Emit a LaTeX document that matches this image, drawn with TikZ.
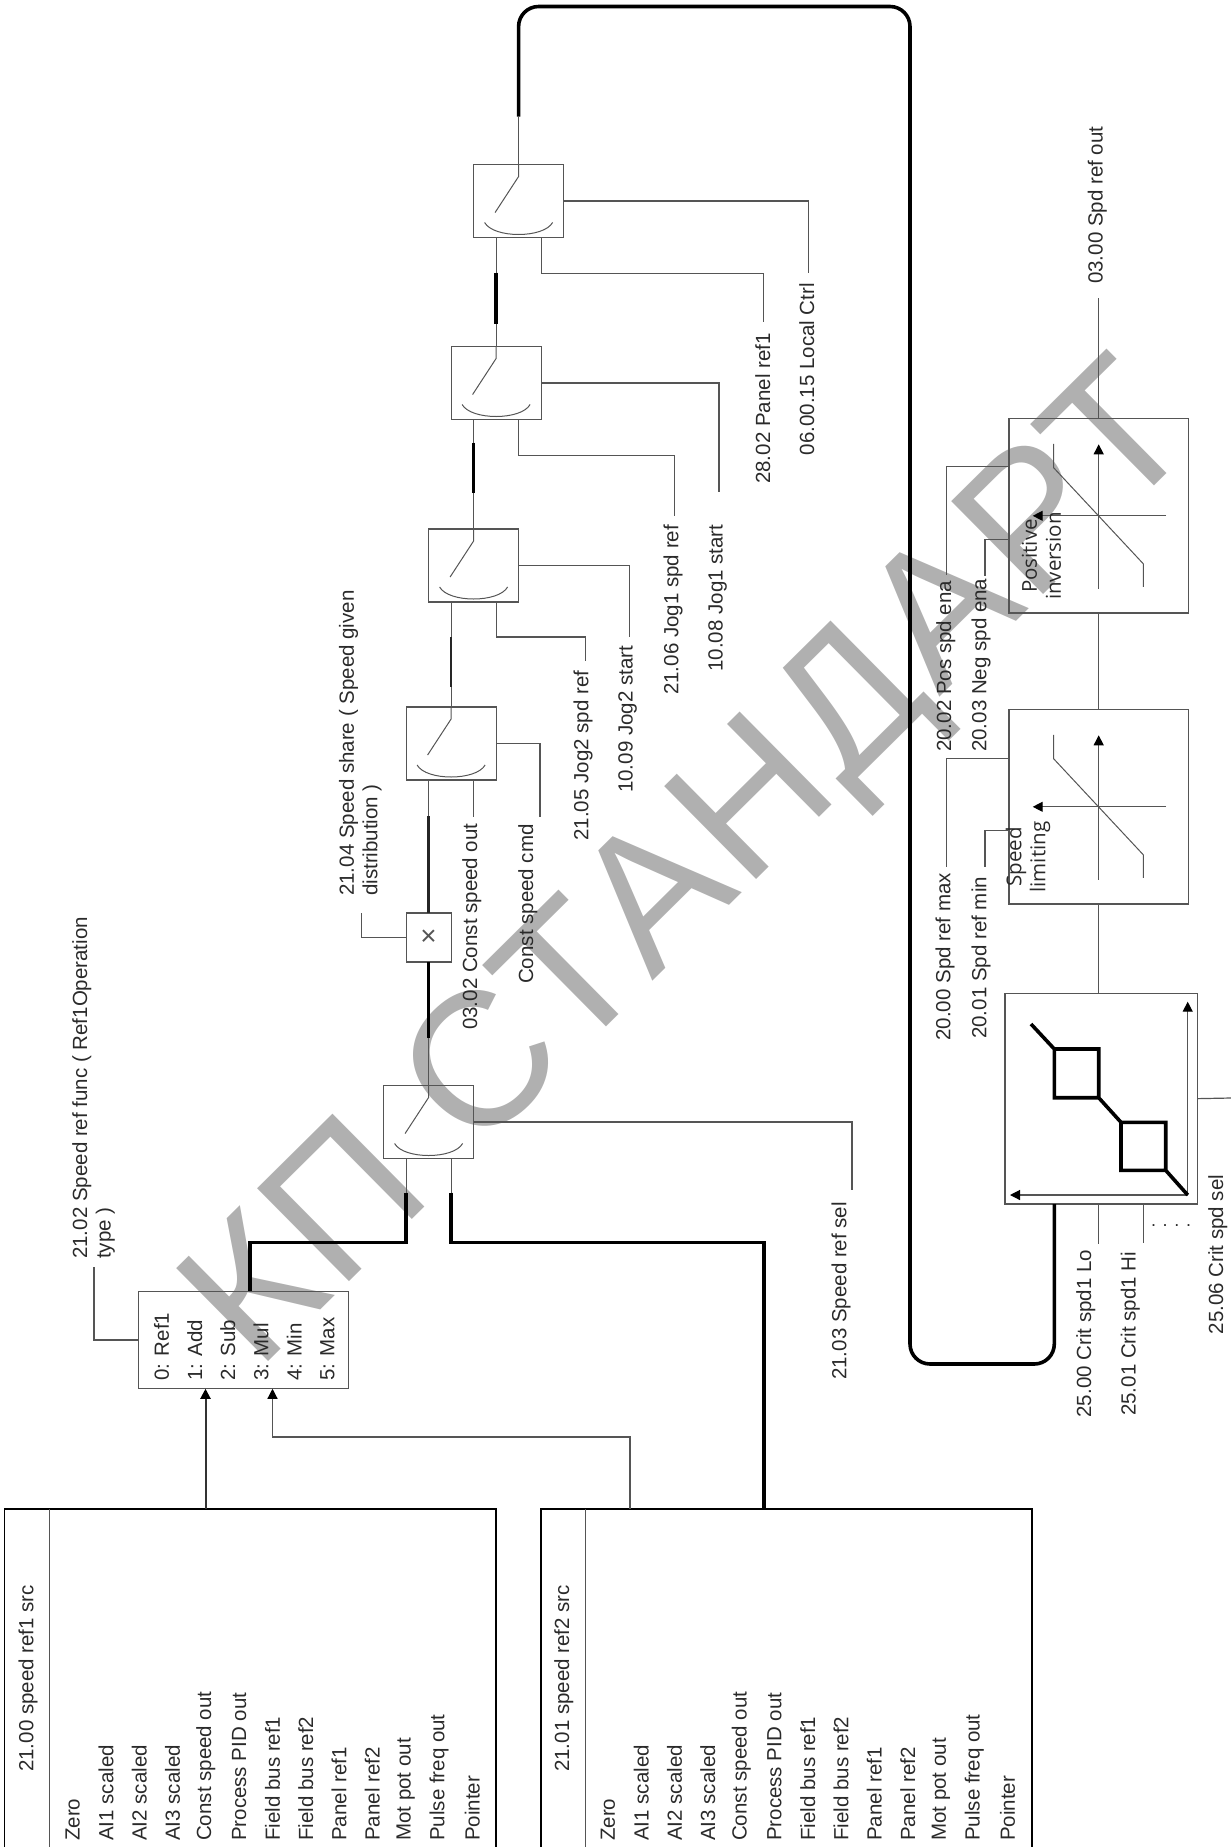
\documentclass[tikz,border=0pt]{standalone}
\usepackage{fontspec}
\setmainfont{Liberation Sans}
\newfontfamily\inboxfont{Open Sans}
\newfontfamily\markfont[LetterSpace=2]{Liberation Sans}
\usepackage{xcolor}
\usetikzlibrary{arrows.meta}
\definecolor{ink}{HTML}{2A2A2A}
\definecolor{wire}{HTML}{555555}
\definecolor{mark}{HTML}{B0B0B0}
\tikzset{
  lbl/.style={rotate=90, anchor=west, inner sep=0pt, align=left, text=ink,
              font=\fontsize{20.5}{23.5}\selectfont},
  inlbl/.style={rotate=90, inner sep=0pt, align=center, text=ink,
              font=\inboxfont\fontsize{20.5}{24}\selectfont},
  plainbox/.style={rectangle, draw=wire, line width=1.2pt, inner sep=0pt, outer sep=0pt},
  srcbox/.style={plainbox, draw=black, line width=1.5pt, minimum width=491.4pt, minimum height=340pt},
  swbox/.style={plainbox, minimum width=90pt, minimum height=73pt},
  chartbox/.style={plainbox, minimum width=179.3pt, minimum height=194.4pt},
  flow/.style={draw=wire, line width=1.2pt},
  arrowflow/.style={flow, -{Triangle[length=10pt,width=10pt,color=black]}},
  midflow/.style={draw=black!85, line width=2.6pt},
  heavy/.style={draw=black, line width=3.6pt},
}

\begin{document}
\begin{tikzpicture}[x=1pt,y=-1pt]
\useasboundingbox (0,0) rectangle (1231,1847);

\node[rotate=44.7, anchor=base west, inner sep=0pt, text=mark,
      font=\markfont\fontsize{190}{190}\selectfont] (stamp) at (257,1373) {КП СТАНДАРТ};

\node[srcbox] (refa) at (250.3,1679) {};
\node[srcbox] (refb) at (786.5,1679) {};
\draw[flow] (refa.north west) ++(44.8,0) -- ++(0,340);
\draw[flow] (refb.north west) ++(44.5,0) -- ++(0,340);
\node[lbl] (refatitle) at (28,1772) {21.00 speed ref1 src};
\node[lbl] (refbtitle) at (563.7,1772) {21.01 speed ref2 src};
\foreach \t [count=\n from 0] in {Zero,AI1 scaled,AI2 scaled,AI3 scaled,Const speed out,Process PID out,Field bus ref1,Field bus ref2,Panel ref1,Panel ref2,Mot pot out,Pulse freq out,Pointer} {
  \node[lbl] (refa\n) at (72.7+33.3*\n,1841) {\t};
  \node[lbl] (refb\n) at (608+33.3*\n,1841) {\t};
}

\node[plainbox, minimum width=210pt, minimum height=97.5pt] (fn) at (243.5,1340) {};
\foreach \t [count=\n from 0] in {0: Ref1,1: Add,2: Sub,3: Mul,4: Min,5: Max}
  \node[lbl] (fn\n) at (161.5+33.2*\n,1381) {\t};
\node[lbl] (fnlbl) at (93.5,1259) {21.02 Speed ref func ( Ref1Operation\\type )};
\coordinate (fnend) at (94,1267);
\draw[flow] (fn.west) -| (fnend);

\foreach \nm/\cx/\cy in {swA/428.6/1122,swB/451.1/743.5,swC/473.6/565.5,swD/496.1/383,swE/518.6/201} {
  \node[swbox] (\nm) at (\cx,\cy) {};
  \draw[flow, line width=1pt] (\nm.north) -- ++(0,12) -- ++(-23.5,36);
  \draw[flow, line width=1pt] (\nm.north) ++(-34,58) .. controls +(9,16) and +(-9,16) .. ++(68,0);
}
\node[plainbox, minimum width=45pt, minimum height=49pt, font=\fontsize{28}{28}\selectfont, text=wire] (mul) at (428.6,937.5) {×};

\draw[arrowflow, draw=black!80, line width=2pt] ([xshift=-44.8pt]refa.north) -- ([xshift=-38pt]fn.south);
\draw[arrowflow] ([xshift=-156.5pt]refb.north) -- ++(0,-72) -| ([xshift=29pt]fn.south);
\draw[heavy] ([xshift=-22.5pt,yshift=-34pt]swA.south) -- ++(0,50) -| ([xshift=6.5pt]fn.north);
\draw[heavy] ([xshift=22.5pt,yshift=-34pt]swA.south) -- ++(0,50) -| ([xshift=-22.5pt]refb.north);
\draw[flow] ([xshift=-22.5pt]swA.south) -- ++(0,34);
\draw[flow] ([xshift=22.5pt]swA.south) -- ++(0,34);

\draw[flow] (swA.north) -- (mul.south);
\draw[heavy] (mul.south) -- ++(0,76);
\draw[flow] ([xshift=-22.5pt]swB.south) -- (mul.north);
\draw[midflow] (mul.north) -- ++(0,-97);
\draw[flow] ([xshift=-22.5pt]swC.south) -- (swB.north);
\draw[midflow] ([xshift=-22.5pt,yshift=-35pt]swC.south) -- ++(0,50);
\draw[flow] ([xshift=-22.5pt]swD.south) -- (swC.north);
\draw[heavy] ([xshift=-22.5pt,yshift=-23pt]swD.south) -- ++(0,50);
\draw[flow] ([xshift=-22.5pt]swE.south) -- (swD.north);
\draw[heavy] ([xshift=-22.5pt,yshift=-35pt]swE.south) -- ++(0,51);

\coordinate (mulend) at (361.7,913);
\draw[flow] (mul.west) -| (mulend);
\node[lbl] (mullbl) at (360.3,896) {21.04 Speed share ( Speed given\\distribution )};
\coordinate (selend) at (852,1190);
\draw[flow] (swA.east) -| (selend);
\node[lbl] (sellbl) at (841,1380) {21.03 Speed ref sel};

\coordinate (cnstout) at (473.6,816.7);
\coordinate (cnstcmd) at (540,816.7);
\draw[flow] ([xshift=22.5pt]swB.south) -- (cnstout);
\draw[flow] (swB.east) -| (cnstcmd);
\node[lbl] (cnstoutlbl) at (471.7,1030) {03.02 Const speed out};
\node[lbl] (cnstcmdlbl) at (527.7,984) {Const speed cmd};

\coordinate (jogbref) at (585.3,661);
\coordinate (jogbstart) at (629.7,637);
\draw[flow] ([xshift=22.5pt]swC.south) -- ++(0,35) -| (jogbref);
\draw[flow] (swC.east) -| (jogbstart);
\node[lbl] (jogbreflbl) at (583,840.7) {21.05 Jog2 spd ref};
\node[lbl] (jogbstartlbl) at (627.7,793) {10.09 Jog2 start};

\coordinate (jogaref) at (674.7,516);
\coordinate (jogastart) at (719,491.8);
\draw[flow] ([xshift=22.5pt]swD.south) -- ++(0,36) -| (jogaref);
\draw[flow] (swD.east) -| (jogastart);
\node[lbl] (jogareflbl) at (673,695) {21.06 Jog1 spd ref};
\node[lbl] (jogastartlbl) at (717.7,671.7) {10.08 Jog1 start};

\coordinate (panelend) at (763.7,321.5);
\coordinate (localend) at (808.3,272.9);
\draw[flow] ([xshift=22.5pt]swE.south) -- ++(0,36) -| (panelend);
\draw[flow] (swE.east) -| (localend);
\node[lbl] (panellbl) at (762.7,484) {28.02 Panel ref1};
\node[lbl] (locallbl) at (806.7,455.4) {06.00.15 Local Ctrl};

\node[plainbox, minimum width=192.3pt, minimum height=210.7pt] (crit) at (1101.15,1098.65) {};
\node[chartbox] (limb) at (1098.7,806.8) {};
\node[chartbox] (signb) at (1098.7,515.8) {};
\foreach \nm in {limb,signb} {
  \draw[arrowflow] (\nm.center) ++(67.3,0) -- ++(-133.3,0);
  \draw[arrowflow] (\nm.center) ++(0,73) -- ++(0,-144.5);
  \draw[flow, line width=1pt] (\nm.center) ++(-45,-72) -- ++(0,24) -- ++(89.6,96) -- ++(0,23);
}
\node[inlbl] (limlbl) at (1028,857) {Speed\\limiting};
\node[inlbl] (signlbl) at (1041.5,556) {Positive\\inversion};

\coordinate (critorg) at (1187.7,1195);
\draw[arrowflow] (critorg) -- ++(-177.7,0);
\draw[arrowflow] (critorg) -- ++(0,-193.3);
\draw[heavy] (critorg) -- ++(-22,-24.7) rectangle ++(-44.7,-48) -- ++(-22.3,-24.6) rectangle ++(-44.4,-48.7) -- ++(-23.3,-25);

\coordinate (loopa) at (910,6.5);
\coordinate (loopb) at (910,1364);
\draw[flow] (swE.north) -- ++(0,-48);
\draw[heavy, rounded corners=20pt] ([yshift=48pt]swE.north) |- (loopa) -- (loopb) -| ([xshift=-46.85pt]crit.south);

\coordinate (spdout) at (1098.7,298);
\draw[flow] (limb.south) -- (limb.south |- crit.north);
\draw[flow] (signb.south) -- (limb.north);
\draw[flow] (signb.north) -- (spdout);
\node[lbl] (spdoutlbl) at (1097.3,284) {03.00 Spd ref out};

\coordinate (posena) at (946.7,575);
\coordinate (negena) at (985,575.7);
\coordinate (maxend) at (946.7,866.7);
\coordinate (minend) at (985,866.7);
\draw[flow] ([yshift=49pt]signb.west) -| (posena);
\draw[flow] ([yshift=-24pt]signb.west) -| (negena);
\draw[flow] ([yshift=48pt]limb.west) -| (maxend);
\draw[flow] ([yshift=-24pt]limb.west) -| (minend);
\node[lbl] (posenalbl) at (945.7,752) {20.02 Pos spd ena};
\node[lbl] (negenalbl) at (981,752) {20.03 Neg spd ena};
\node[lbl] (maxlbl) at (945,1040.8) {20.00 Spd ref max};
\node[lbl] (minlbl) at (981,1039) {20.01 Spd ref min};

\coordinate (critlo) at (1098.7,1244);
\coordinate (crithi) at (1143.3,1243);
\coordinate (critout) at (1231,1098);
\draw[flow] (crit.south -| critlo) -- (critlo);
\draw[flow] (crit.south -| crithi) -- (crithi);
\draw[flow] (crit.east) -- (critout);
\node[lbl] (critlolbl) at (1085.7,1417.6) {25.00 Crit spd1 Lo};
\node[lbl] (crithilbl) at (1130.4,1416) {25.01 Crit spd1 Hi};
\node[inner sep=0pt, text=ink, font=\fontsize{18}{18}\selectfont] (critdots) at (1171,1226) {. . . .};
\node[lbl] (critsellbl) at (1217.7,1334.5) {25.06 Crit spd sel};
\end{tikzpicture}
\end{document}
